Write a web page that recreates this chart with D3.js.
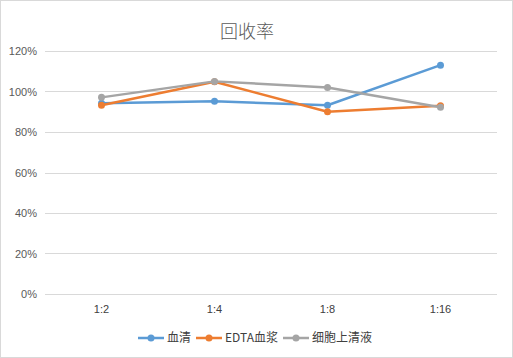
<!DOCTYPE html>
<html><head><meta charset="utf-8">
<script src="https://cdn.jsdelivr.net/npm/d3@7"></script>
<style>body{margin:0;background:#fff}svg{display:block}</style>
</head><body>
<script>
const categories = ["1:2","1:4","1:8","1:16"];
const seriesNames = ["血清","EDTA血浆","细胞上清液"];
const serum = [0.942, 0.952, 0.932, 1.13];
const edta = [0.932, 1.048, 0.900, 0.930];
const supernatant = [0.971, 1.050, 1.020, 0.922];
const yTicks = [0,0.2,0.4,0.6,0.8,1.0,1.2];
const colors = ["#5b9bd5","#ed7d31","#a5a5a5"];
const series = [serum, edta, supernatant];

const W=513,H=358;
const svg=d3.select("body").append("svg").attr("width",W).attr("height",H);
svg.append("rect").attr("x",0.5).attr("y",0.5).attr("width",W-1).attr("height",H-1)
  .attr("fill","#fff").attr("stroke","#d9d9d9");
const font="'Noto Sans CJK SC','Liberation Sans',sans-serif";
svg.append("text").attr("x",247).attr("y",38).attr("text-anchor","middle")
  .attr("font-family",font).attr("font-size",18).attr("font-weight",300).attr("fill","#595959").text("回收率");

const x=d3.scaleBand().domain(categories).range([45,497]);
const y=d3.scaleLinear().domain([0,1.2]).range([294,51]);

const g=svg.append("g");
g.selectAll("line.grid").data(yTicks).join("line").attr("class","grid")
  .attr("x1",45).attr("x2",497).attr("y1",d=>Math.round(y(d))+0.5).attr("y2",d=>Math.round(y(d))+0.5)
  .attr("stroke","#d9d9d9").attr("stroke-width",1);
g.selectAll("text.yl").data(yTicks).join("text").attr("class","yl")
  .attr("x",37).attr("y",d=>y(d)+4).attr("text-anchor","end")
  .attr("font-family","'Liberation Sans',sans-serif").attr("font-size",11).attr("fill","#595959")
  .text(d=>Math.round(d*100)+"%");
g.selectAll("text.xl").data(categories).join("text").attr("class","xl")
  .attr("x",d=>x(d)+x.bandwidth()/2).attr("y",313).attr("text-anchor","middle")
  .attr("font-family","'Liberation Sans',sans-serif").attr("font-size",11).attr("fill","#404040")
  .text(d=>d);

const line=d3.line().x((d,i)=>x(categories[i])+x.bandwidth()/2).y(d=>y(d));
series.forEach((s,k)=>{
  g.append("path").attr("d",line(s)).attr("fill","none").attr("stroke",colors[k])
    .attr("stroke-width",2.5).attr("stroke-linejoin","round").attr("stroke-linecap","round");
  g.selectAll("circle.s"+k).data(s).join("circle")
    .attr("cx",(d,i)=>x(categories[i])+x.bandwidth()/2).attr("cy",d=>y(d)).attr("r",3.5)
    .attr("fill",colors[k]);
});

const legX=[138,196,283];
seriesNames.forEach((n,k)=>{
  const lg=svg.append("g");
  lg.append("line").attr("x1",legX[k]).attr("x2",legX[k]+26).attr("y1",338).attr("y2",338)
    .attr("stroke",colors[k]).attr("stroke-width",2.5);
  lg.append("circle").attr("cx",legX[k]+13).attr("cy",338).attr("r",3.5).attr("fill",colors[k]);
  lg.append("text").attr("x",legX[k]+29).attr("y",342).attr("font-family",font)
    .attr("font-size",12).attr("fill","#404040").text(n);
});
</script>
</body></html>
